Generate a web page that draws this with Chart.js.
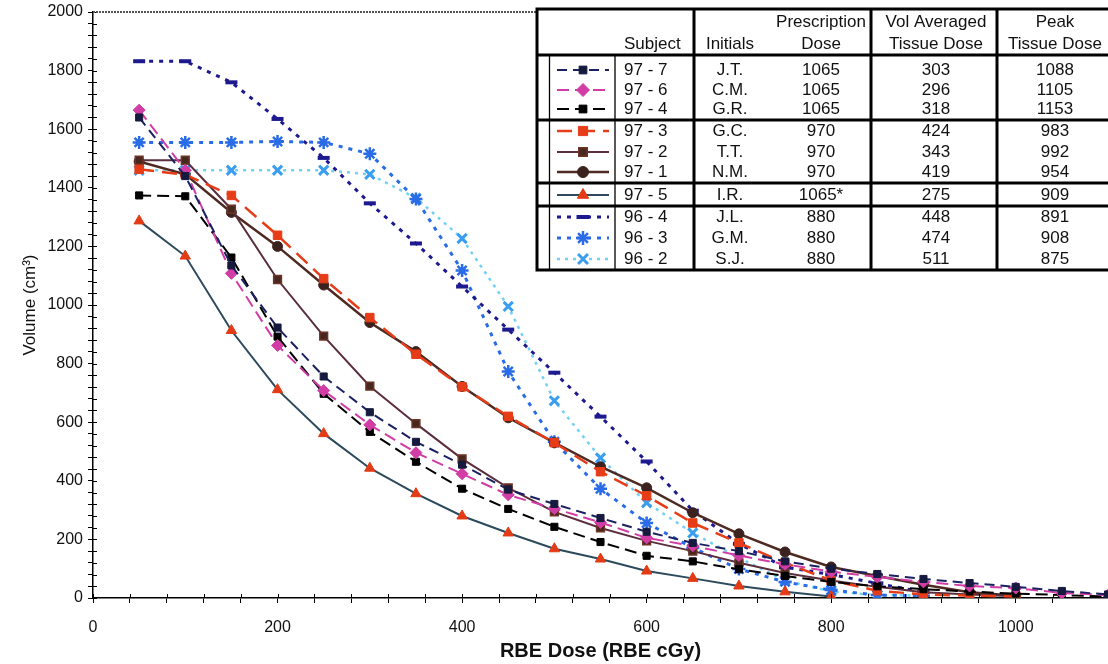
<!DOCTYPE html>
<html>
<head>
<meta charset="utf-8">
<title>Dose volume histograms</title>
<script src="https://cdn.jsdelivr.net/npm/chart.js@4.4.1/dist/chart.umd.min.js"></script>
<style>
  html, body { margin: 0; padding: 0; background: #fff; overflow: hidden; }
  #wrap { width: 1108px; height: 664px; }
</style>
</head>
<body>
<div id="wrap"><canvas id="dvh" width="1108" height="664"></canvas></div>
<script>
// Dose bins (RBE cGy)
const doses = [50, 100, 150, 200, 250, 300, 350, 400, 450, 500, 550,
               600, 650, 700, 750, 800, 850, 900, 950, 1000, 1050, 1100];

// Volume (cm3) receiving at least each dose, per subject
const vol97_7 = [1640, 1440, 1135, 923, 756, 634, 533, 455, 370, 321, 273, 226, 188, 160, 125, 100, 82, 65, 51, 38, 24, 12];
const vol97_6 = [1665, 1460, 1108, 862, 708, 591, 496, 424, 352, 305, 258, 205, 178, 145, 115, 90, 72, 55, 41, 34, 17, 10];
const vol97_4 = [1374, 1371, 1162, 892, 697, 567, 465, 373, 304, 243, 191, 144, 125, 98, 75, 55, 40, 30, 22, 15, 10, 5];
const vol97_3 = [1463, 1445, 1374, 1238, 1090, 957, 832, 721, 620, 530, 431, 349, 256, 188, 120, 60, 25, 12, 8, 5];
const vol97_2 = [1494, 1494, 1327, 1087, 894, 723, 595, 475, 376, 294, 239, 195, 160, 120, 85, 60, 38, 20, 12, 6];
const vol97_1 = [1490, 1446, 1316, 1200, 1068, 940, 841, 722, 615, 530, 448, 376, 291, 219, 157, 106, 75, 45, 20, 8];
const vol97_5 = [1287, 1167, 913, 711, 561, 443, 356, 280, 222, 168, 133, 92, 67, 41, 21, 5];
const vol96_4 = [1832, 1832, 1760, 1635, 1502, 1347, 1210, 1063, 916, 769, 619, 466, 298, 185, 105, 80, 50, 20];
const vol96_3 = [1555, 1555, 1555, 1558, 1555, 1516, 1362, 1118, 773, 533, 373, 256, 171, 99, 55, 27, 10, 8];
const vol96_2 = [1460, 1460, 1460, 1460, 1460, 1446, 1365, 1227, 995, 673, 478, 325, 222, 137, 60, 22, 10, 8];

// Table columns
const subjects = ['97 - 7', '97 - 6', '97 - 4', '97 - 3', '97 - 2', '97 - 1', '97 - 5', '96 - 4', '96 - 3', '96 - 2'];
const initials = ['J.T.', 'C.M.', 'G.R.', 'G.C.', 'T.T.', 'N.M.', 'I.R.', 'J.L.', 'G.M.', 'S.J.'];
const rxDose = ['1065', '1065', '1065', '970', '970', '970', '1065*', '880', '880', '880'];
const volAvgDose = [303, 296, 318, 424, 343, 419, 275, 448, 474, 511];
const peakDose = [1088, 1105, 1153, 983, 992, 954, 909, 891, 908, 875];

// Axis ranges: minor ticks every 40, labels every 200
const xMax = 1100, yMax = 2000, minorStep = 40, labelStep = 200;

function series(values) {
    return values.map((v, i) => ({ x: doses[i], y: v }));
}

function style(color, marker, opts) {
    return Object.assign({
        borderColor: color,
        borderWidth: 2,
        pointStyle: marker,
        pointBackgroundColor: color,
        pointBorderColor: color,
        pointRadius: 5,
        pointBorderWidth: 1,
        tension: 0,
        fill: false
    }, opts || {});
}

const datasets = [
    Object.assign({ label: '97 - 7', data: series(vol97_7) }, style('#1b2160', 'rect', { borderDash: [10, 6], pointBackgroundColor: '#161a3e', pointBorderColor: '#161a3e' })),
    Object.assign({ label: '97 - 6', data: series(vol97_6) }, style('#d23ca5', 'rectRot', { borderDash: [12, 6], pointRadius: 6 })),
    Object.assign({ label: '97 - 4', data: series(vol97_4) }, style('#000000', 'rect', { borderDash: [12, 6] })),
    Object.assign({ label: '97 - 3', data: series(vol97_3) }, style('#e63c18', 'rect', { borderDash: [15, 8], borderWidth: 2.5, pointRadius: 6 })),
    Object.assign({ label: '97 - 2', data: series(vol97_2) }, style('#5a2e3c', 'rect', { pointBackgroundColor: '#47281f', pointBorderColor: '#6e3527', pointRadius: 5.5, pointBorderWidth: 1.5 })),
    Object.assign({ label: '97 - 1', data: series(vol97_1) }, style('#4e2a22', 'circle', { borderWidth: 2.5, pointBackgroundColor: '#3c221e', pointBorderColor: '#3c221e' })),
    Object.assign({ label: '97 - 5', data: series(vol97_5) }, style('#2c4a5c', 'triangle', { pointBackgroundColor: '#e23b16', pointBorderColor: '#e23b16', pointRadius: 6 })),
    Object.assign({ label: '96 - 4', data: series(vol96_4) }, style('#1c1a8e', 'line', { borderDash: [4, 6], borderWidth: 3, pointRadius: 6, pointBorderWidth: 4 })),
    Object.assign({ label: '96 - 3', data: series(vol96_3) }, style('#2a6ce6', 'star', { borderDash: [4, 6], borderWidth: 3, pointRadius: 6.5, pointBorderWidth: 2.5 })),
    Object.assign({ label: '96 - 2', data: series(vol96_2) }, style('#72d0f4', 'crossRot', { borderDash: [3, 5], borderWidth: 2.5, pointBackgroundColor: '#3a9ef0', pointBorderColor: '#3a9ef0', pointRadius: 6.5, pointBorderWidth: 3 }))
];

// Stretch the plot (and the x scale) out to the right edge of the canvas
const fullWidth = {
    id: 'fullWidth',
    afterLayout(chart) {
        const area = chart.chartArea, xs = chart.scales.x;
        area.right = chart.width;
        area.width = area.right - area.left;
        xs.right = chart.width;
        xs.width = xs.right - xs.left;
        xs.configure();
    }
};

// Tick marks that cross the axis lines, plus the top frame line
const axisTicks = {
    id: 'axisTicks',
    afterDraw(chart) {
        const ctx = chart.ctx, area = chart.chartArea;
        const xs = chart.scales.x, ys = chart.scales.y;
        ctx.save();
        ctx.strokeStyle = '#000';
        ctx.lineWidth = 1;
        xs.ticks.forEach(t => {
            const px = Math.round(xs.getPixelForValue(t.value)) + 0.5;
            ctx.beginPath(); ctx.moveTo(px, area.bottom - 4); ctx.lineTo(px, area.bottom); ctx.stroke();
        });
        ys.ticks.forEach(t => {
            const py = Math.round(ys.getPixelForValue(t.value)) + 0.5;
            ctx.beginPath(); ctx.moveTo(area.left, py); ctx.lineTo(area.left + 4, py); ctx.stroke();
        });
        ctx.strokeStyle = '#555';
        ctx.lineWidth = 2;
        ctx.setLineDash([2, 1]);
        ctx.beginPath(); ctx.moveTo(area.left, area.top); ctx.lineTo(area.right, area.top); ctx.stroke();
        ctx.restore();
    }
};

// Subject table with line samples, top right of the plot
const subjectTable = {
    id: 'subjectTable',
    afterDraw(chart) {
        const ctx = chart.ctx;
        const left = 537, right = 1124, top = 9, bottom = 270, headBottom = 55;
        const rowY = [70, 90, 109, 131, 152, 172, 195, 217, 238, 259];
        const groupLines = [120, 183, 206];
        const colLines = [694, 871, 997];
        const cx = { initials: 730, rx: 821, avg: 936, peak: 1055 };

        ctx.save();
        ctx.fillStyle = '#fff';
        ctx.fillRect(left, top, right - left, bottom - top);

        ctx.strokeStyle = '#000';
        ctx.setLineDash([]);
        ctx.lineWidth = 3;
        ctx.strokeRect(left, top, right - left, bottom - top);
        ctx.beginPath();
        [headBottom].concat(groupLines).forEach(y => { ctx.moveTo(left, y); ctx.lineTo(right, y); });
        colLines.forEach(x => { ctx.moveTo(x, top); ctx.lineTo(x, bottom); });
        ctx.stroke();
        ctx.lineWidth = 1.3;
        ctx.beginPath();
        ctx.moveTo(549.5, headBottom); ctx.lineTo(549.5, bottom);
        ctx.moveTo(615, headBottom); ctx.lineTo(615, bottom);
        ctx.stroke();

        ctx.fillStyle = '#111';
        ctx.font = "17px 'Liberation Sans', Arial, sans-serif";
        ctx.textBaseline = 'middle';
        ctx.textAlign = 'left';
        ctx.fillText('Subject', 624, 44);
        ctx.textAlign = 'center';
        ctx.fillText('Initials', cx.initials, 44);
        ctx.fillText('Prescription', cx.rx, 22);
        ctx.fillText('Dose', cx.rx, 44);
        ctx.fillText('Vol Averaged', cx.avg, 22);
        ctx.fillText('Tissue Dose', cx.avg, 44);
        ctx.fillText('Peak', cx.peak, 22);
        ctx.fillText('Tissue Dose', cx.peak, 44);

        subjects.forEach((s, i) => {
            const y = rowY[i];
            ctx.fillStyle = '#111';
            ctx.textAlign = 'left';
            ctx.fillText(s, 624, y);
            ctx.textAlign = 'center';
            ctx.fillText(initials[i], cx.initials, y);
            ctx.fillText(rxDose[i], cx.rx, y);
            ctx.fillText(String(volAvgDose[i]), cx.avg, y);
            ctx.fillText(String(peakDose[i]), cx.peak, y);

            // line sample drawn with the dataset's own style
            const ds = datasets[i];
            ctx.save();
            ctx.strokeStyle = ds.borderColor;
            ctx.lineWidth = ds.borderWidth;
            ctx.setLineDash(ds.borderDash || []);
            ctx.beginPath(); ctx.moveTo(557, y); ctx.lineTo(609, y); ctx.stroke();
            ctx.setLineDash([]);
            ctx.fillStyle = ds.pointBackgroundColor;
            ctx.strokeStyle = ds.pointBorderColor;
            ctx.lineWidth = ds.pointBorderWidth;
            Chart.helpers.drawPoint(ctx, {
                pointStyle: ds.pointStyle, radius: ds.pointRadius + 0.5,
                rotation: 0, borderWidth: ds.pointBorderWidth
            }, 583, y);
            ctx.restore();
        });
        ctx.restore();
    }
};

Chart.defaults.font.family = "'Liberation Sans', Arial, sans-serif";
Chart.defaults.color = '#111';

new Chart(document.getElementById('dvh').getContext('2d'), {
    type: 'line',
    data: { datasets: datasets },
    options: {
        responsive: false,
        animation: false,
        devicePixelRatio: 1,
        layout: { padding: { top: 12, right: 0, bottom: 0, left: 0 } },
        plugins: { legend: { display: false }, tooltip: { enabled: false } },
        scales: {
            x: {
                type: 'linear', min: 0, max: xMax,
                ticks: {
                    stepSize: minorStep, autoSkip: false, maxRotation: 0, padding: 15,
                    font: { size: 16 },
                    callback: v => (v % labelStep === 0 ? String(v) : '')
                },
                grid: { drawOnChartArea: false, tickLength: 5, color: '#000', lineWidth: 1 },
                border: { color: '#000', width: 1.5 },
                title: {
                    display: true, text: 'RBE Dose (RBE cGy)',
                    font: { size: 20, weight: 'bold' }, padding: { top: 0, bottom: 1 }
                },
                afterFit: s => { s.height = 66; s.paddingLeft = 0; s.paddingRight = 0; }
            },
            y: {
                type: 'linear', min: 0, max: yMax,
                ticks: {
                    stepSize: minorStep, autoSkip: false, padding: 5,
                    font: { size: 16 },
                    callback: v => (v % labelStep === 0 ? String(v) : '')
                },
                grid: { drawOnChartArea: false, tickLength: 5, color: '#000', lineWidth: 1 },
                border: { color: '#000', width: 1.5 },
                title: {
                    display: true, text: 'Volume (cm³)',
                    font: { size: 17 }, padding: { top: 20, bottom: 0 }
                },
                afterFit: s => { s.width = 93; s.paddingTop = 0; s.paddingBottom = 0; }
            }
        }
    },
    plugins: [fullWidth, axisTicks, subjectTable]
});
</script>
</body>
</html>
